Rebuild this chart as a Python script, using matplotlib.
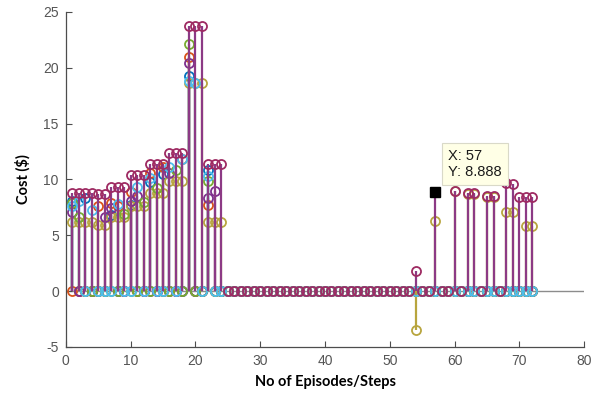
import numpy as np
import matplotlib
matplotlib.use("Agg")
import matplotlib.pyplot as plt

plt.rcParams['axes.unicode_minus'] = False

# Steps 1..72, only the first 24 and a few late steps carry a cost
steps = np.arange(1, 73)

# series values for steps 1..24
blue_early = [8.1, 0, 8.3, 0, 0, 0, 6.8, 0, 0, 7.7, 0, 0, 9.8, 0, 10.5, 0, 0, 0, 19.3, 0, 0, 10.8, 0, 0]
orange_early = [0, 0, 0, 0, 7.6, 0, 7.9, 7.6, 0, 8.9, 0, 0, 10.6, 0, 11.1, 0, 0, 11.8, 21.0, 0, 0, 7.7, 0, 0]
olive_early = [6.2, 6.2, 6.2, 6.2, 5.9, 5.9, 6.6, 6.6, 6.6, 7.6, 7.6, 7.6, 8.75, 8.75, 8.75, 9.9, 9.9, 9.9,
               18.6, 18.6, 18.6, 6.2, 6.2, 6.2]
purple_early = [7.1, 0, 0, 0, 0, 6.6, 7.4, 0, 0, 8.1, 8.5, 0, 0, 0, 0, 10.6, 0, 0, 20.4, 0, 0, 8.3, 9.0, 0]
green_early = [7.9, 6.6, 0, 0, 0, 0, 0, 0, 6.9, 0, 0, 8.0, 0, 9.2, 0, 0, 10.8, 0, 22.1, 0, 0, 9.9, 0, 0]
lblue_early = [7.6, 8.1, 0, 7.3, 0, 0, 0, 7.8, 0, 0, 9.3, 0, 10.1, 0, 0, 11.1, 0, 11.8, 18.8, 18.6, 0, 10.3, 0, 0]
top_early = [8.8, 8.8, 8.8, 8.8, 8.65, 8.65, 9.3, 9.3, 9.3, 10.35, 10.35, 10.35, 11.4, 11.4, 11.4,
             12.4, 12.4, 12.4, 23.7, 23.7, 23.7, 11.4, 11.4, 11.4]

# late steps with non-zero cost
late_steps = [54, 57, 60, 62, 63, 65, 66, 68, 69, 70, 71, 72]
top_late = [1.8, 8.888, 9.0, 8.75, 8.75, 8.5, 8.5, 9.7, 9.6, 8.4, 8.4, 8.4]
olive_late = [-3.5, 6.3, 8.95, 8.7, 8.7, 8.45, 8.45, 7.05, 7.05, 0, 5.8, 5.8]

tip_step = 57


def full_series(early, late=None):
    vals = np.zeros(len(steps))
    vals[:len(early)] = early
    if late is not None:
        for s, v in zip(late_steps, late):
            vals[s - 1] = v
    return vals


series = [
    (full_series(blue_early), '#0072BD', '#0072BD'),
    (full_series(orange_early), '#D95319', '#D95319'),
    (full_series(olive_early, olive_late), '#B8A53E', '#B8A53E'),
    (full_series(purple_early), '#7E2F8E', '#7E2F8E'),
    (full_series(green_early), '#77AC30', '#77AC30'),
    (full_series(lblue_early), '#4DBEEE', '#4DBEEE'),
    (full_series(top_early, top_late), '#8C3A85', '#9E2A62'),
]

fig = plt.figure(figsize=(5.98, 3.96), dpi=100)
ax = fig.add_axes([0.110, 0.124, 0.867, 0.846])

ax.axhline(0, color='#8c8c8c', linewidth=1.0, zorder=1)

for i, (vals, line_c, mark_c) in enumerate(series):
    markerline, stemlines, baseline = ax.stem(steps, vals, basefmt=' ')
    stemlines.set_color(line_c)
    stemlines.set_linewidth(1.6)
    stemlines.set_zorder(2 + i * 0.1)
    markerline.set_marker('o')
    markerline.set_markersize(6.5)
    markerline.set_markerfacecolor('none')
    markerline.set_markeredgecolor(mark_c)
    markerline.set_markeredgewidth(1.3)
    markerline.set_zorder(2.05 + i * 0.1)

# data tip
tip_val = series[-1][0][tip_step - 1]
ax.plot([tip_step], [tip_val], 's', color='black', markersize=7.5, zorder=5)
ax.annotate(f"X: {tip_step}\nY: {tip_val:.3f}", xy=(tip_step, tip_val),
            xytext=(13, 13), textcoords='offset pixels', ha='left', va='bottom',
            fontsize=10.5, family='Liberation Sans', color='#1a1a1a', linespacing=1.2,
            bbox=dict(boxstyle='square,pad=0.4', facecolor='#FFFFE6', edgecolor='#d9d9c8', linewidth=0.8),
            zorder=6)

ax.set_xlim(0, 80)
ax.set_ylim(-5, 25)
ax.set_xticks(np.arange(0, 81, 10))
ax.set_yticks(np.arange(-5, 26, 5))

for side in ['top', 'right']:
    ax.spines[side].set_visible(False)
for side in ['left', 'bottom']:
    ax.spines[side].set_color('#4d4d4d')
    ax.spines[side].set_linewidth(0.9)

ax.tick_params(direction='in', length=4, width=0.8, colors='#4d4d4d', labelsize=10, pad=5)
for lbl in ax.get_xticklabels() + ax.get_yticklabels():
    lbl.set_family('Liberation Sans')
    lbl.set_color('#555555')

ax.set_xlabel('No of Episodes/Steps', fontsize=10.5, fontweight='bold', family='Lato', labelpad=5)
ax.set_ylabel('Cost ($)', fontsize=10.5, fontweight='bold', family='Lato', labelpad=9)

fig.savefig('out.png', dpi=100, facecolor='white')
